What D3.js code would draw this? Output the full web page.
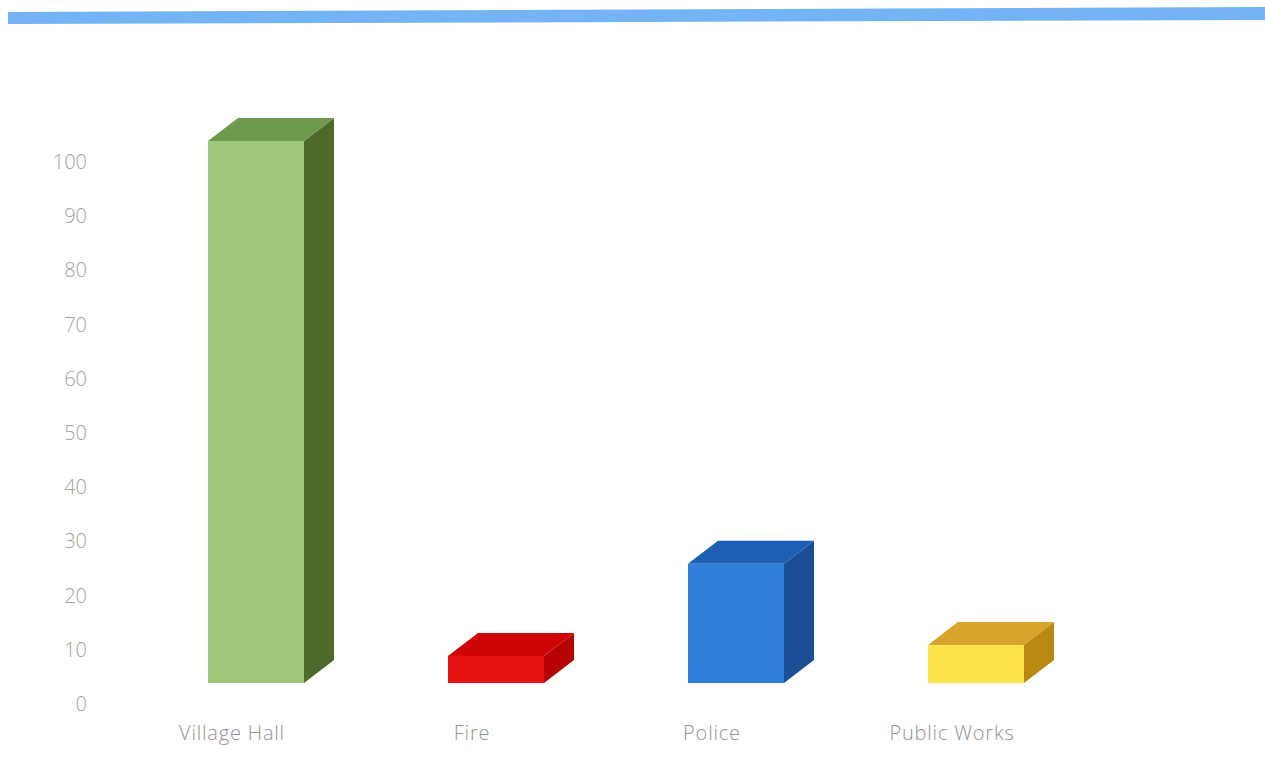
<!DOCTYPE html>
<html>
<head>
<meta charset="utf-8">
<script src="https://cdn.jsdelivr.net/npm/d3@7/dist/d3.min.js"></script>
<style>
  html, body { margin: 0; padding: 0; background: #ffffff; }
  svg { display: block; }
</style>
</head>
<body>
<svg id="chart" width="1265" height="765"></svg>
<script>
// Department counts
const categories = ["Village Hall", "Fire", "Police", "Public Works"];
const values = [100, 5, 22, 7];
const tickValues = [0, 10, 20, 30, 40, 50, 60, 70, 80, 90, 100];

// Shading per column: front face, top face, side face
const frontColors = ["#a0c87c", "#e41212", "#2e7fd9", "#fde44c"];
const topColors   = ["#6f9a4e", "#d00404", "#1d5fb2", "#d7a42c"];
const sideColors  = ["#4b6a2b", "#b50202", "#1b4e95", "#b88a12"];

const svg = d3.select("#chart");

// Accent band across the top
svg.append("polygon")
  .attr("points", "8,12 1265,7 1265,20 8,24")
  .attr("fill", "#74b3f4");

const x = d3.scaleBand()
  .domain(categories)
  .range([136, 1096])
  .paddingInner(0.6)
  .paddingOuter(0.3);

const y = d3.scaleLinear()
  .domain([0, 100])
  .range([683, 141]);

// Depth of the 3D columns
const dx = 30, dy = 23;

// Value axis (labels sit on the back wall, below the front plane)
const yAxis = d3.axisLeft(y).tickValues(tickValues).tickSize(0).tickPadding(0);
const gy = svg.append("g")
  .attr("transform", "translate(87,21)")
  .call(yAxis);
gy.select(".domain").remove();
gy.selectAll("text")
  .attr("fill", "#a2a2a2")
  .style("font-family", "'Open Sans', sans-serif")
  .style("font-weight", 300)
  .style("font-size", "20px");

const bars = svg.append("g").selectAll("g.col")
  .data(categories.map((c, i) => ({ c, v: values[i], i })))
  .join("g").attr("class", "col");

// Side face
bars.append("polygon")
  .attr("points", d => {
    const x1 = x(d.c) + x.bandwidth(), y0 = y(0), y1 = y(d.v);
    return [[x1, y0], [x1 + dx, y0 - dy], [x1 + dx, y1 - dy], [x1, y1]].join(" ");
  })
  .attr("fill", d => sideColors[d.i]);

// Top face
bars.append("polygon")
  .attr("points", d => {
    const x0 = x(d.c), x1 = x0 + x.bandwidth(), y1 = y(d.v);
    return [[x0, y1], [x0 + dx, y1 - dy], [x1 + dx, y1 - dy], [x1, y1]].join(" ");
  })
  .attr("fill", d => topColors[d.i]);

// Front face
bars.append("rect")
  .attr("x", d => x(d.c))
  .attr("y", d => y(d.v))
  .attr("width", x.bandwidth())
  .attr("height", d => y(0) - y(d.v))
  .attr("fill", d => frontColors[d.i]);

// Category labels
svg.append("g").selectAll("text")
  .data(categories)
  .join("text")
  .attr("x", d => x(d) + x.bandwidth() / 2 - 24)
  .attr("y", 740)
  .attr("text-anchor", "middle")
  .attr("fill", "#939393")
  .style("font-family", "'Open Sans', sans-serif")
  .style("font-weight", 300)
  .style("font-size", "20px")
  .style("letter-spacing", "0.8px")
  .text(d => d);
</script>
</body>
</html>
